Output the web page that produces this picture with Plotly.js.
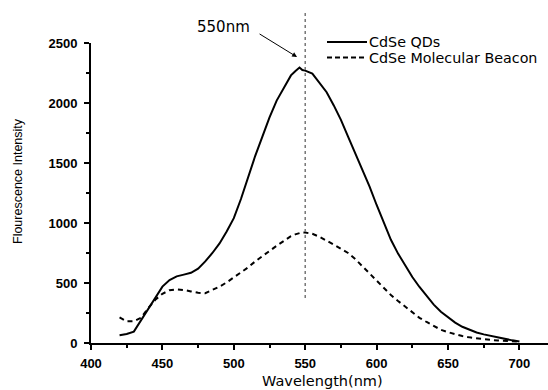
<!DOCTYPE html>
<html><head><meta charset="utf-8">
<script src="https://cdn.plot.ly/plotly-3.0.1.min.js"></script>
<style>html,body{margin:0;padding:0;background:#fff;}#chart{width:548px;height:390px;}</style>
</head><body><div id="chart"></div>
<script>
var wavelength = [420,425,430,435,440,445,450,455,460,465,470,475,480,485,490,495,500,505,510,515,520,525,530,535,540,543,546,548,550,555,560,565,570,575,580,585,590,595,600,605,610,615,620,625,630,635,640,645,650,655,660,665,670,675,680,685,690,695,700];
var qdIntensity = [65,75,95,190,290,385,470,525,555,570,585,620,680,750,830,930,1040,1200,1380,1560,1720,1880,2020,2130,2230,2265,2295,2275,2270,2245,2170,2090,1980,1860,1720,1585,1445,1305,1150,1000,860,745,645,550,467,390,320,260,212,170,135,110,88,72,58,45,33,22,12];
var beaconIntensity = [214,180,182,210,290,360,410,440,447,442,430,418,415,440,470,505,545,590,630,680,725,770,810,850,890,905,918,922,920,910,885,855,820,785,750,700,640,580,520,460,400,350,305,255,210,175,140,110,90,72,58,47,38,32,26,21,17,14,11];
var seriesNames = ['CdSe QDs','CdSe Molecular Beacon'];
var seriesDash = ['solid', '5px,4px'];
var xTicks = [400,450,500,550,600,650,700];
var yTicks = [0,500,1000,1500,2000,2500];
var markerWavelength = 550;
var markerLineRange = [375, 2775];
var peakLabel = '550nm';
var peakPoint = [544.3, 2383];

var F = 'Liberation Sans, Arial, sans-serif';
var FW = 'DejaVu Sans, sans-serif';
// pixel helpers for the paper-referenced legend/title placement
var L = 91, T = 43, W = 457, H = 300;
function px(p) { return (p - L) / W; }
function py(p) { return (T + H - p) / H; }

var traces = seriesNames.map(function (n, i) {
  return {x: wavelength, y: i === 0 ? qdIntensity : beaconIntensity, name: n, mode: 'lines',
    line: {color: '#000', width: 2, dash: seriesDash[i]}};
});
var axisCommon = {showline: true, linecolor: '#000', linewidth: 2, ticks: 'outside', ticklen: 5, tickwidth: 2, tickcolor: '#000',
  showgrid: false, zeroline: false, tickfont: {family: F, size: 13, color: '#000', weight: 'bold'}};

var legendRows = [42, 57.5];
var shapes = [{type: 'line', xref: 'x', yref: 'paper', x0: markerWavelength, x1: markerWavelength,
  y0: markerLineRange[0] / 2500, y1: markerLineRange[1] / 2500, line: {color: '#777', width: 1.5, dash: 'dot'}}];
var annotations = [
  {x: peakPoint[0], y: peakPoint[1], xref: 'x', yref: 'y', text: '', showarrow: true, ax: -39, ay: -24,
    arrowhead: 2, arrowsize: 1, arrowwidth: 1, arrowcolor: '#000'},
  {x: px(223.5), y: py(27), xref: 'paper', yref: 'paper', text: peakLabel, showarrow: false, xanchor: 'center', yanchor: 'middle',
    font: {family: FW, size: 15, color: '#000'}},
  {x: px(322), y: py(380.5), xref: 'paper', yref: 'paper', text: 'Wavelength(nm)', showarrow: false, xanchor: 'center', yanchor: 'middle',
    font: {family: FW, size: 14.5, color: '#000'}},
  {x: px(18), y: py(181), xref: 'paper', yref: 'paper', text: 'Flourescence Intensity', showarrow: false, textangle: -90,
    xanchor: 'center', yanchor: 'middle', font: {family: F, size: 12.5, color: '#000'}}
];
seriesNames.forEach(function (n, i) {
  shapes.push({type: 'line', xref: 'paper', yref: 'paper', x0: px(327), x1: px(367), y0: py(legendRows[i]), y1: py(legendRows[i]),
    line: {color: '#000', width: 2, dash: i === 0 ? 'solid' : '5px,3px'}});
  annotations.push({x: px(367), y: py(legendRows[i]), xref: 'paper', yref: 'paper', text: n, showarrow: false,
    xanchor: 'left', yanchor: 'middle', font: {family: FW, size: 14.3, color: '#000'}});
});

var layout = {
  width: 548, height: 390,
  margin: {l: L, r: 0, t: T, b: 390 - T - H},
  paper_bgcolor: '#fff', plot_bgcolor: '#fff',
  font: {family: F, color: '#000'},
  showlegend: false,
  xaxis: Object.assign({}, axisCommon, {range: [400, 720], tickvals: xTicks, ticktext: xTicks.map(String), ticklabelstandoff: 2,
    minor: {dtick: 25, tick0: 400, ticks: 'outside', ticklen: 3, tickwidth: 2, tickcolor: '#000', showgrid: false}}),
  yaxis: Object.assign({}, axisCommon, {range: [0, 2500], tickvals: yTicks, ticktext: yTicks.map(String), ticklabelstandoff: 4,
    minor: {dtick: 250, tick0: 0, ticks: 'outside', ticklen: 3, tickwidth: 2, tickcolor: '#000', showgrid: false}}),
  shapes: shapes,
  annotations: annotations
};
Plotly.newPlot('chart', traces, layout, {displayModeBar: false, staticPlot: true});
</script></body></html>
